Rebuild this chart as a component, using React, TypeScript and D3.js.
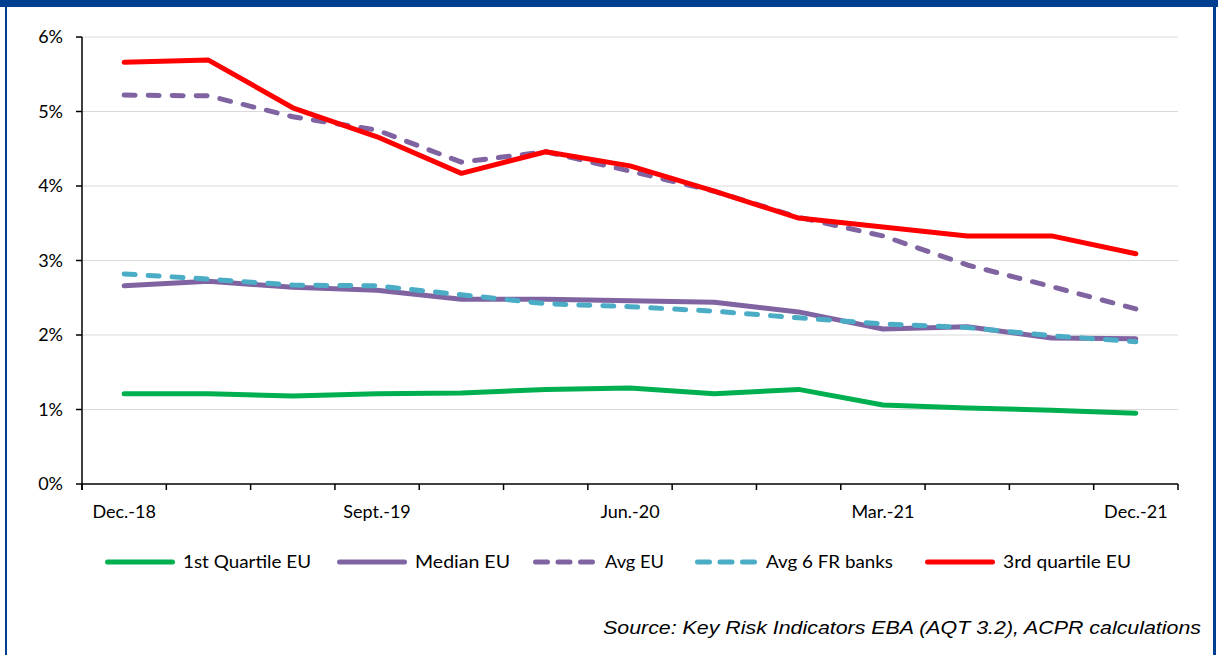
import React, { useEffect, useRef } from "react";
import * as d3 from "d3";

const categories = [
  "Dec.-18", "Mar.-19", "Jun.-19", "Sept.-19", "Dec.-19", "Mar.-20", "Jun.-20",
  "Sept.-20", "Dec.-20", "Mar.-21", "Jun.-21", "Sept.-21", "Dec.-21",
];
const shownLabels = ["Dec.-18", "Sept.-19", "Jun.-20", "Mar.-21", "Dec.-21"];
const yTicks = [0, 1, 2, 3, 4, 5, 6];

const firstQuartileEU = [1.21, 1.21, 1.18, 1.21, 1.22, 1.27, 1.29, 1.21, 1.27, 1.06, 1.02, 0.99, 0.95];
const medianEU = [2.66, 2.72, 2.64, 2.6, 2.48, 2.48, 2.46, 2.44, 2.31, 2.08, 2.11, 1.96, 1.95];
const avgEU = [5.22, 5.21, 4.93, 4.75, 4.32, 4.46, 4.2, 3.93, 3.58, 3.33, 2.94, 2.65, 2.35];
const avg6FR = [2.82, 2.75, 2.67, 2.66, 2.54, 2.42, 2.38, 2.32, 2.23, 2.15, 2.1, 1.99, 1.91];
const thirdQuartileEU = [5.66, 5.69, 5.05, 4.66, 4.17, 4.46, 4.27, 3.93, 3.57, 3.45, 3.33, 3.33, 3.09];

const seriesNames = ["1st Quartile EU", "Median EU", "Avg EU", "Avg 6 FR banks", "3rd quartile EU"];
const seriesColors = ["#00B050", "#8064A2", "#8064A2", "#4BACC6", "#FF0000"];
const seriesDashed = [false, false, true, true, false];
const seriesValues = [firstQuartileEU, medianEU, avgEU, avg6FR, thirdQuartileEU];
const drawOrder = [0, 1, 3, 2, 4];

const legendLineX = [105, 337, 533, 695, 925];
const legendLineW = [70, 70, 64, 63, 70];
const legendTextW = [128, 95, 59, 127, 128];

const FONT = "Lato, 'Open Sans', sans-serif";

export default function App() {
  const ref = useRef<SVGSVGElement>(null);

  useEffect(() => {
    const svg = d3.select(ref.current);
    svg.selectAll("*").remove();
    const W = 1218, H = 655;
    const left = 82, right = 1178, top = 37, bottom = 484;

    svg.append("rect").attr("width", W).attr("height", H).attr("fill", "#fff");

    const x = d3.scaleBand<string>().domain(categories).range([left, right]);
    const y = d3.scaleLinear().domain([0, 6]).range([bottom, top]);
    const cx = (c: string) => (x(c) as number) + x.bandwidth() / 2;

    // gridlines
    svg.append("g").selectAll("line").data(yTicks.filter((t) => t > 0)).join("line")
      .attr("x1", left).attr("x2", right)
      .attr("y1", (d) => y(d)).attr("y2", (d) => y(d))
      .attr("stroke", "#D9D9D9").attr("stroke-width", 1);

    // y axis
    svg.append("line").attr("x1", left).attr("x2", left).attr("y1", top).attr("y2", bottom + 6)
      .attr("stroke", "#000").attr("stroke-width", 1.5);
    svg.append("g").selectAll("line").data(yTicks).join("line")
      .attr("x1", left - 6).attr("x2", left).attr("y1", (d) => y(d)).attr("y2", (d) => y(d))
      .attr("stroke", "#000").attr("stroke-width", 1.5);
    svg.append("g").selectAll("text").data(yTicks).join("text")
      .attr("x", 63).attr("y", (d) => y(d) + 6)
      .attr("text-anchor", "end").attr("font-family", FONT).attr("font-size", 18).attr("fill", "#000")
      .text((d) => `${d}%`);

    // x axis
    svg.append("line").attr("x1", left).attr("x2", right).attr("y1", bottom).attr("y2", bottom)
      .attr("stroke", "#000").attr("stroke-width", 1.5);
    const boundaries = categories.map((c) => x(c) as number).concat([right]);
    svg.append("g").selectAll("line").data(boundaries).join("line")
      .attr("x1", (d) => d).attr("x2", (d) => d).attr("y1", bottom).attr("y2", bottom + 6)
      .attr("stroke", "#000").attr("stroke-width", 1.5);
    svg.append("g").selectAll("text").data(shownLabels).join("text")
      .attr("x", (d) => cx(d)).attr("y", 518)
      .attr("text-anchor", "middle").attr("font-family", FONT).attr("font-size", 18).attr("fill", "#000")
      .text((d) => d);

    // lines
    const line = d3.line<number>().x((_, i) => cx(categories[i])).y((d) => y(d));
    drawOrder.forEach((k) => {
      svg.append("path").attr("d", line(seriesValues[k]) as string)
        .attr("fill", "none").attr("stroke", seriesColors[k]).attr("stroke-width", 5)
        .attr("stroke-linejoin", "round")
        .attr("stroke-linecap", "round")
        .attr("stroke-dasharray", seriesDashed[k] ? "11 13" : null);
    });

    // legend
    const ly = 562;
    seriesNames.forEach((name, k) => {
      svg.append("line").attr("x1", legendLineX[k] + 2.5).attr("x2", legendLineX[k] + legendLineW[k] - 2.5)
        .attr("y1", ly).attr("y2", ly)
        .attr("stroke", seriesColors[k]).attr("stroke-width", 5).attr("stroke-linecap", "round")
        .attr("stroke-dasharray", seriesDashed[k] ? "12 10.5" : null);
      svg.append("text").attr("x", legendLineX[k] + legendLineW[k] + 8).attr("y", ly + 6)
        .attr("font-family", FONT).attr("font-size", 18).attr("fill", "#000")
        .attr("textLength", legendTextW[k]).attr("lengthAdjust", "spacingAndGlyphs")
        .text(name);
    });

    // source
    svg.append("text").attr("x", 1201).attr("y", 634).attr("text-anchor", "end")
      .attr("font-family", "'Liberation Sans', Arial, sans-serif").attr("font-style", "italic")
      .attr("font-size", 18).attr("fill", "#000")
      .attr("textLength", 598).attr("lengthAdjust", "spacingAndGlyphs")
      .text("Source: Key Risk Indicators EBA (AQT 3.2), ACPR calculations");

    // frame
    const frame = "#003F8F";
    svg.append("rect").attr("x", 0).attr("y", 0).attr("width", W).attr("height", 7).attr("fill", frame);
    svg.append("rect").attr("x", 5).attr("y", 0).attr("width", 2).attr("height", H).attr("fill", frame);
    svg.append("rect").attr("x", 1213).attr("y", 0).attr("width", 3).attr("height", H).attr("fill", frame);
  }, []);

  return (
    <svg ref={ref} width={1218} height={655}
      style={{ position: "absolute", left: 0, top: 0, display: "block" }} />
  );
}
